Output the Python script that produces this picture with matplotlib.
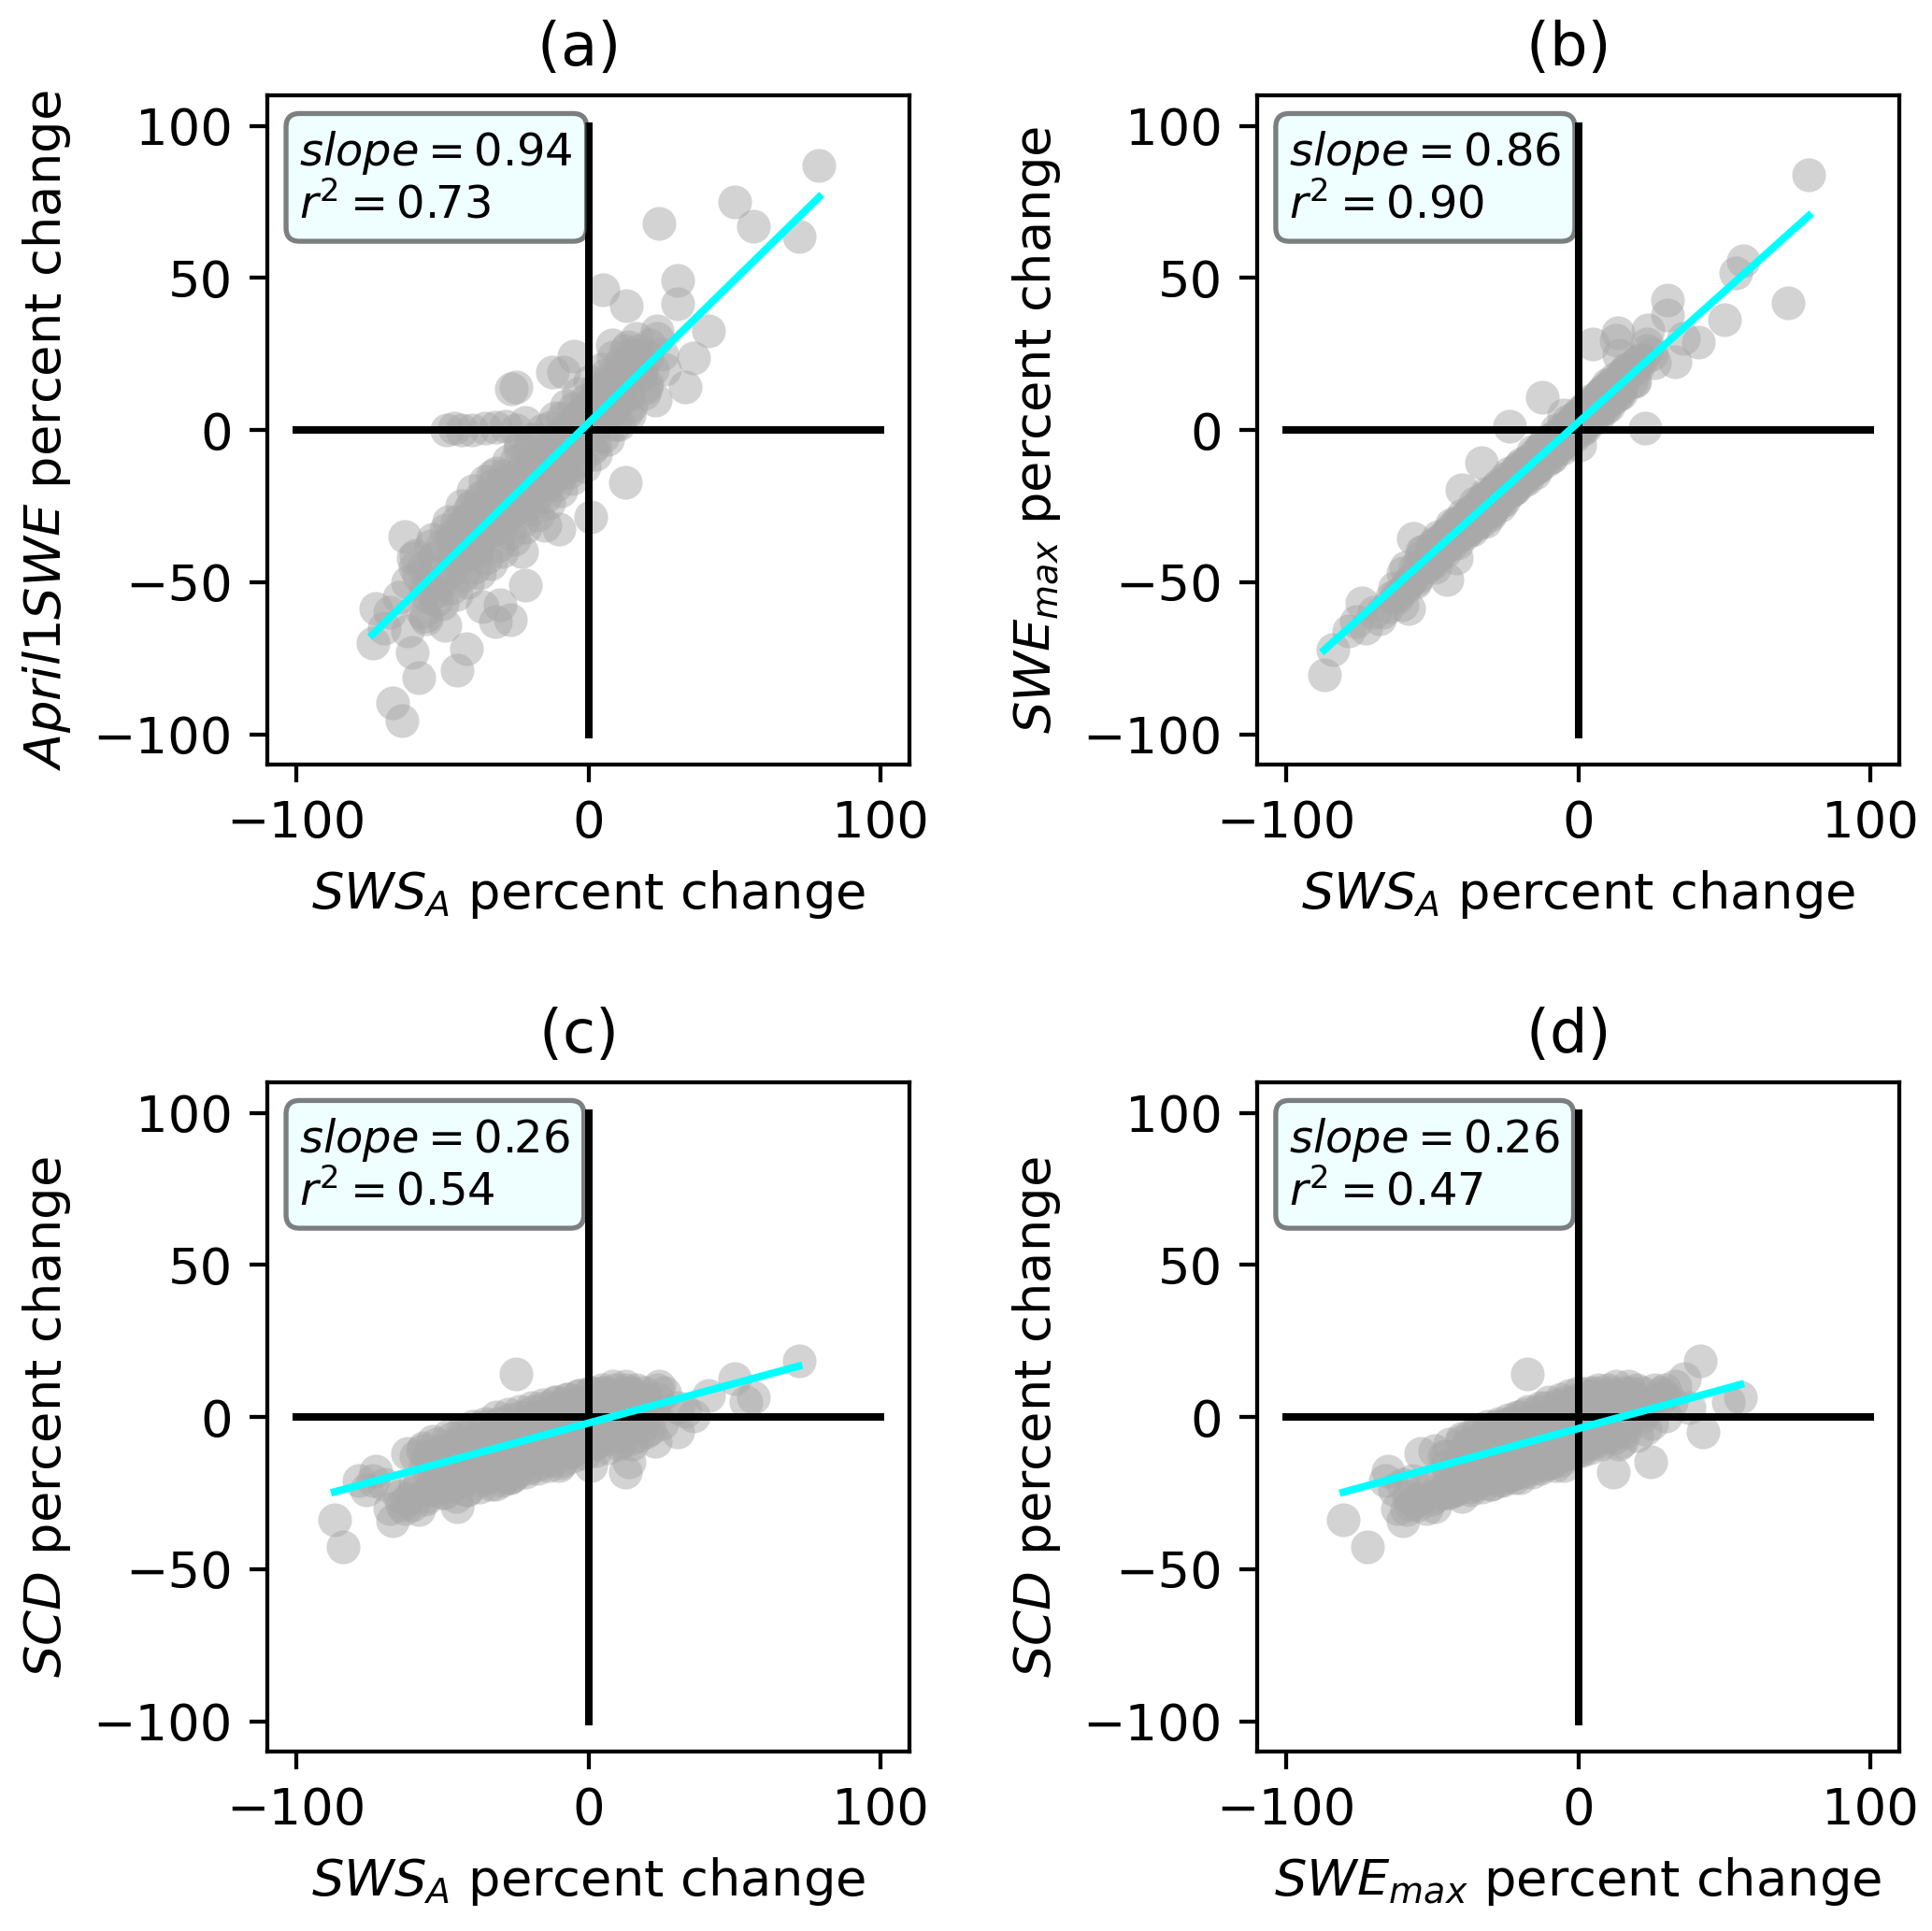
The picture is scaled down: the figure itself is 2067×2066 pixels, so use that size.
import numpy as np
import matplotlib.pyplot as plt

nan = np.nan

# station values (percent change); nan = variable not available at the station
sws_a = [
    79, 72, 50, 56.5, 54, 41, 30.5, 30.5, 36, 33,
    24, 23.5, 23, 13.5, 13, 5, 12.5, 13.8, 0.6, -10,
    -25, -26.5, -48.5, -46, -43.4, -40, -35.4, -32, -28.5, -21.7,
    -25, -62.8, -21.7, -73, -74, -60.5, -58.2, -45.1, -41.7, -67,
    -64, -26.8, -32, -49.1, -56, -30.3, -36.5, -22.8, -14.8, -59.4,
    -54.8, -87, -84, -78.6, -76, -56.6, -62, -40, -33, -23.4,
    -12.3, -5.1, 8, 15, 18, 10, 20, 3, 6, 25,
    -58, -55, -53, -51, -50, -48, -47, -45, -44, -43,
    -42, -41, -40, -39, -38, -37, -36, -35, -34, -33,
    -32, -31, -30, -29, -28, -27, -26, -25, -24, -23,
    -22, -21, -20, -19, -18, -17, -16, -15, -14, -13,
    -12, -11, -10, -9, -8, -7, -6, -5, -4, -3,
    -2, -1, 0, 1, 2, 3, 4, 5, 6, 7,
    8, 9, 10, 11, 12, 14, 16, 18, -46, -38,
    -30, -22, -14, -6, 2, -52, -36, -27, -18, -9,
    20, 22, 15, -65, -68, -70, -8.6,
    -60, -57, -54, -52, -49, -47, -45, -43, -41, -39,
    -37, -35, -33, -31, -29, -27, -25, -23, -21, -19,
    -17, -15, -13, -11, -9, -7, -5, -3, -1, 1,
    3, 5, 7, 9, 11, 13, 17, 19, 21, 26,
    -56, -50.5, -46.5, -44.5, -42.5, -40.5, -38.5, -36.5, -34.5, -32.5,
    -30.5, -28.5, -26.5, -24.5, -22.5, -20.5, -18.5, -16.5, -14.5, -12.5,
    -10.5, -8.5, -6.5, -4.5, -2.5, -0.5, 1.5, 3.5, 5.5, 7.5,
    9.5,
    -62, -59, -55.5, -53.5, -50, -48, -45.5, -43.5, -41.5, -39.5,
    -37.5, -35.5, -33.5, -31.5, -29.5, -27.5, -25.5, -23.5, -21.5, -19.5,
    -17.5, -15.5, -13.5, -11.5, -9.5, -7.5, -5.5, -3.5, -1.5, 0.5,
    2.5, 4.5, 6.5, 8.5, 10.5, 12.5, 14.5, 16.5, 19.5, 23.5,
]
swe_max = [
    84, 41.7, 36.3, 55.6, 51.5, 29, 42.6, 37.9, 30, 22.5,
    33, 28.4, 0.6, 32, 29.6, 28.4, 12, 24.7, -5, -8,
    -17.5, -21, -40, -37, -35, -33, -29, -26, -22, -17,
    -20, -52, -17, -65, -56.8, -57.4, -58.6, -49, -42, -60,
    -55, -25, -30, -45, -50, -28, -33, -20, -14, -52,
    -48, -80.5, -72.2, -66, -63, -35.5, -54, -19.5, -10.7, 1.2,
    10.7, 5, 12, 18, 20, 15, 22, 5, 8, 25,
    -50, -46, -40, -44, -38, -41, -36, -38, -33, -36,
    -31, -35, -30, -33, -28, -31, -26, -30, -25, -28,
    -22, -26, -21, -25, -19, -23, -18, -21, -16, -19,
    -14, -17, -12, -16, -11, -14, -9, -12, -7, -10,
    -5, -9, -4, -7, -2, -5, 0, -4, 1, -2,
    3, 0, 5, 1, 7, 3, 9, 5, 10, 6,
    12, 8, 14, 10, 15, 12, 19, 16, -35, -33,
    -27, -19, -12, -5, 2, -45, -30, -22, -15, -9,
    20, 23, 14, -58, -62, -60, -3,
    -47, -49, -42, -44, -37, -40, -34, -37, -30, -34,
    -27, -31, -23, -27, -20, -24, -16, -20, -13, -17,
    -10, -13, -6, -10, -3, -6, 0, -3, 4, 0,
    8, 4, 11, 7, 15, 11, 20, 16, 23, 22,
    -45, -40, -38, -35, -34, -33, -30, -29, -27, -26,
    -23, -22, -21, -18, -17, -16, -13, -12, -10, -9,
    -6, -5, -3, -2, 0, 2, 4, 5, 7, 9,
    11,
    -55, -45, -49, -40, -44, -35, -40, -31, -37, -28,
    -33, -24, -30, -21, -26, -18, -23, -14, -19, -11,
    -16, -7, -12, -4, -9, 0, -6, 3, -2, 6,
    1, 10, 4, 13, 8, 17, 12, 20, 16, 26,
]
apr1_swe = [
    87, 63.7, 74.9, 67.1, nan, 32.5, 49.3, 41.4, 23.6, 14.3,
    67.9, 32.5, 10, 27.4, 40.8, 46.1, -17.2, 5, -28.7, -32.5,
    14.3, 13.5, 0, 0.5, 0, 0, 0.5, 1, 1.3, 2.5,
    0, -35, -51, -58.6, -70, -73.2, -81.5, -79, -72, -89.8,
    -95.5, -62.4, -63, -64.3, -61, -57.3, -58, -40, -31.2, -45,
    -51.6, nan, nan, nan, nan, -45, -50, -25, -15, -5,
    19, 24.2, 28, 25, 20, 15, 15, 12, 18, 25,
    -48, -55, -42, -50, -38, -47, -35, -44, -32, -41,
    -30, -40, -28, -38, -26, -36, -22, -34, -27, -33,
    -20, -30, -24, -29, -17, -27, -19, -26, -14, -23,
    -16, -21, -11, -19, -12, -18, -8, -15, -6, -13,
    -4, -12, -2, -10, 0, -8, 2, -6, 4, -4,
    6, -2, 8, 0, 10, 2, 12, 4, 14, 6,
    16, 8, 18, 10, 20, 12, 22, 18, -36, -40,
    -32, -25, -18, -12, -5, -53, -30, -20, -22, -14,
    24, 20, 18, -55, -60, -65, 19.1,
    -42, -60, -38, -56, -33, -52, -30, -48, -26, -45,
    -22, -42, -18, -38, -15, -34, -10, -30, -7, -26,
    -3, -22, 1, -18, 4, -14, 7, -10, 10, -6,
    14, -2, 17, 2, 22, 6, 26, 12, 28, 20,
    -52, -46, -40, -41, -36, -37, -33, -34, -29, -30,
    -25, -26, -22, -21, -18, -19, -14, -15, -10, -11,
    -7, -7, -3, -4, 1, 0, 5, 3, 8, 7,
    12,
    -66, -41, -62, -36, -57, -30, -54, -25, -50, -20,
    -47, -17, -44, -14, -40, -10, -36, -6, -32, -3,
    -28, 0, -24, 4, -20, 8, -16, 12, -12, 16,
    -8, 20, -3, 24, 2, 26, 8, 30, 14, 30,
]
scd = [
    nan, 18.3, 12.6, 6.5, 5, 7, -5, 3, 0.3, 2,
    10, 6, -8, 5, 9, 8, -18.2, -14.6, -16, -16,
    14.2, -3, -12, -10, -15, -9, -12, -6, -8, -5,
    -7, -30, -12, -17.7, -20.8, -29, -30.5, -29.5, -24, -34.1,
    -29, -20, -22, -25, -27, -18, -20, -12, -10, -22,
    -24, -33.8, -42.7, -20.8, -24, -10, -12, -8, -5, -3,
    2, 4, 5, 8, 3, 6, 0, 7, 2, -2,
    -22, -13, -20, -18, -11, -19, -16, -9, -17, -21,
    -14, -8, -16, -19, -10, -14, -7, -17, -12, -15,
    -6, -13, -18, -4, -11, -14, -3, -12, -16, -6,
    -10, -2, -13, -9, 0, -11, -4, -12, 1, -8,
    -2, -10, 3, -6, 0, -9, 4, -7, 1, -5,
    5, -3, 2, -6, 4, -4, 6, -3, 3, -7,
    7, -2, 4, -5, 6, -1, 5, -3, -22, -18,
    -9, -15, -13, -11, -9, -23, -20, -20, -16, -14,
    6, 2, -9, -26, -30, -22, 1,
    -25, -11, -24, -9, -23, -7, -21, -6, -20, -4,
    -21, -3, -19, -2, -20, -1, -18, 0, -17, 2,
    -15, 3, -14, 5, -12, 6, -11, 7, -9, 8,
    -8, 8, -6, 9, -8, 8, -6, 8, -4, 8,
    -16, -14, -15, -12, -14, -11, -13, -10, -12, -9,
    -11, -8, -10, -7, -9, -6, -8, -5, -7, -4,
    -6, -3, -5, -2, -4, -1, -3, 0, -2, 1,
    -1,
    -27, -13, -26, -8, -25, -6, -26, -5, -24, -3,
    -23, -2, -22, 0, -21, 1, -19, 2, -18, 3,
    -17, 4, -16, 5, -15, 6, -13, 7, -12, 8,
    -11, 9, -10, 10, -9, 10, -7, 9, -5, 9,
]

# regression results shown in each panel
slopes = [0.94, 0.86, 0.26, 0.26]
r_squared = [0.73, 0.90, 0.54, 0.47]
intercepts = [2.3, 2.5, -2.0, -3.8]
titles = ["(a) ", "(b) ", "(c) ", "(d) "]

sws_a = np.array(sws_a)
swe_max = np.array(swe_max)
apr1_swe = np.array(apr1_swe)
scd = np.array(scd)

panels = [
    (sws_a, apr1_swe, r"$SWS_A$ percent change", r"$April1SWE$ percent change"),
    (sws_a, swe_max, r"$SWS_A$ percent change", r"$SWE_{max}$ percent change"),
    (sws_a, scd, r"$SWS_A$ percent change", r"$SCD$ percent change"),
    (swe_max, scd, r"$SWE_{max}$ percent change", r"$SCD$ percent change"),
]

plt.rcParams["font.size"] = 10.2

fig, axes = plt.subplots(2, 2, figsize=(2067 / 384, 2066 / 384))
fig.subplots_adjust(left=0.1384, right=0.9831, bottom=0.0929, top=0.9506,
                    wspace=0.541, hspace=0.4747)

props = dict(boxstyle="round", facecolor="lightcyan", alpha=0.5)

for ax, (x, y, xlab, ylab), m, r2, b, title in zip(
        axes.flat, panels, slopes, r_squared, intercepts, titles):
    ok = ~np.isnan(x) & ~np.isnan(y)
    x, y = x[ok], y[ok]

    ax.scatter(x, y, s=46, color="darkgray", alpha=0.5, linewidths=0)
    ax.plot([-100, 100], [0, 0], "k")
    ax.plot([0, 0], [-100, 100], "k")

    xx = np.array([x.min(), x.max()])
    ax.plot(xx, m * xx + b, color="cyan")

    ax.text(0.05, 0.95, "$slope = %.2f$\n$r^2 = %.2f$" % (m, r2),
            transform=ax.transAxes, fontsize=9, va="top", bbox=props)
    ax.set_xlabel(xlab)
    ax.set_ylabel(ylab)
    ax.set_title(title, fontsize=12)

fig.savefig("out.png", dpi=384)
